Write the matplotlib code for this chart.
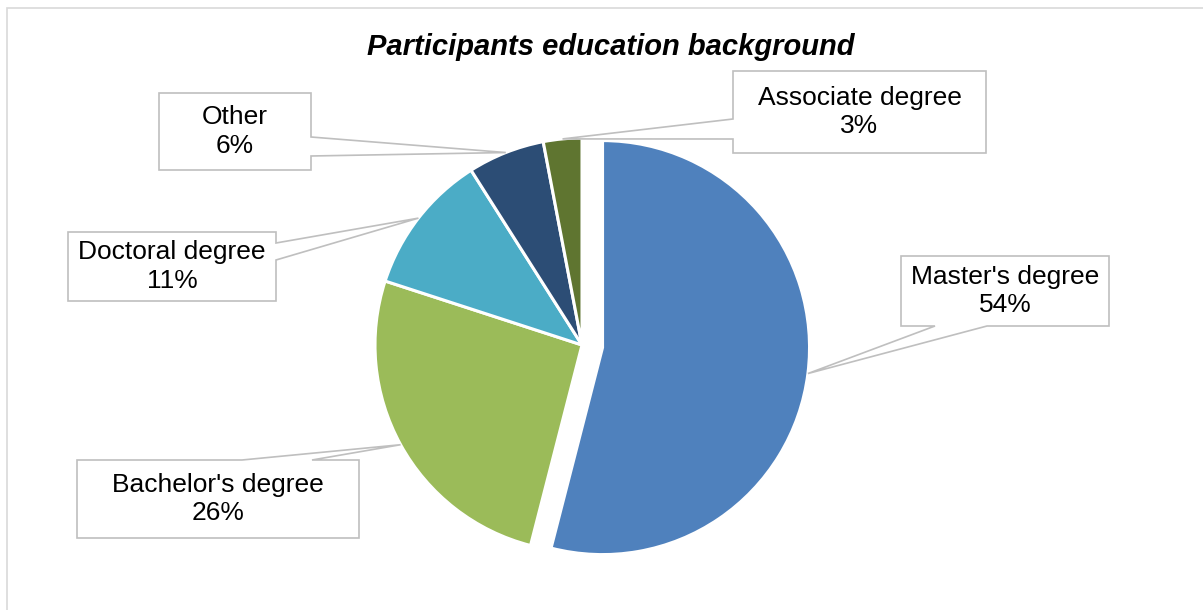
import matplotlib
matplotlib.use('Agg')
import matplotlib.pyplot as plt
from matplotlib.patches import Polygon, Rectangle
import numpy as np

plt.rcParams['font.family'] = ['Liberation Sans', 'DejaVu Sans']

# ------------------------------- Data ------------------------------- #
categories = ["Master's degree", "Bachelor's degree", "Doctoral degree", "Other", "Associate degree"]
shares = [54, 26, 11, 6, 3]  # percent
colors = ['#4F81BD', '#9BBB59', '#4BACC6', '#2C4D75', '#5F7530']
title = 'Participants education background'

# ------------------------------- Layout (pixels, y down) ------------------------------- #
W, H = 1203, 610
pie_center = (582, 345)
pie_radius = 207
explode = [0.1, 0, 0, 0, 0]  # fraction of radius
# (x0, y0, x1, y1, side of pointer, attach a, attach b)
boxes = [(901, 256, 1109, 326, 'bottom', 935, 987),
         (77, 460, 359, 538, 'top', 242, 312),
         (68, 232, 276, 301, 'right', 243, 260),
         (159, 93, 311, 170, 'right', 137, 156),
         (733, 71, 986, 153, 'left', 119, 139)]

fig = plt.figure(figsize=(W / 100, H / 100), dpi=100)
ax = fig.add_axes([0, 0, 1, 1])

# mpl's explode is in data units, so scale it by the radius
wedges, _ = ax.pie(shares, colors=colors, startangle=90, counterclock=False,
                   explode=[e * pie_radius for e in explode], radius=pie_radius,
                   center=(pie_center[0], H - pie_center[1]),
                   wedgeprops=dict(edgecolor='white', linewidth=2.2))
ax.set_xlim(0, W)
ax.set_ylim(0, H)
ax.set_aspect('equal')
ax.axis('off')

# outer chart frame
ax.add_patch(Rectangle((7, -20), W + 20, H - 8 + 20, fill=False,
                       edgecolor='#D9D9D9', linewidth=1.2, clip_on=False))

ax.text(611, H - 47, title, ha='center', va='center', fontsize=21,
        fontweight='bold', fontstyle='italic')

# ------------------------------- Callouts ------------------------------- #
for w, name, v, (x0, y0, x1, y1, side, a, b) in zip(wedges, categories, shares, boxes):
    mid = np.deg2rad((w.theta1 + w.theta2) / 2)
    cx, cy = w.center
    tip = (cx + w.r * np.cos(mid), H - (cy + w.r * np.sin(mid)))  # to y-down
    pts = [(x0, y0)]
    if side == 'top':
        pts += [(a, y0), tip, (b, y0)]
    pts += [(x1, y0)]
    if side == 'right':
        pts += [(x1, a), tip, (x1, b)]
    pts += [(x1, y1)]
    if side == 'bottom':
        pts += [(b, y1), tip, (a, y1)]
    pts += [(x0, y1)]
    if side == 'left':
        pts += [(x0, b), tip, (x0, a)]
    pts = [(px, H - py) for px, py in pts]
    ax.add_patch(Polygon(pts, closed=True, facecolor='white', edgecolor='#BFBFBF',
                         linewidth=1.2, zorder=5))
    ax.text((x0 + x1) / 2, H - (y0 + y1) / 2, f'{name}\n{v}%', ha='center', va='center',
            fontsize=19, linespacing=1.25, zorder=6)

fig.savefig('out.png', dpi=100)
